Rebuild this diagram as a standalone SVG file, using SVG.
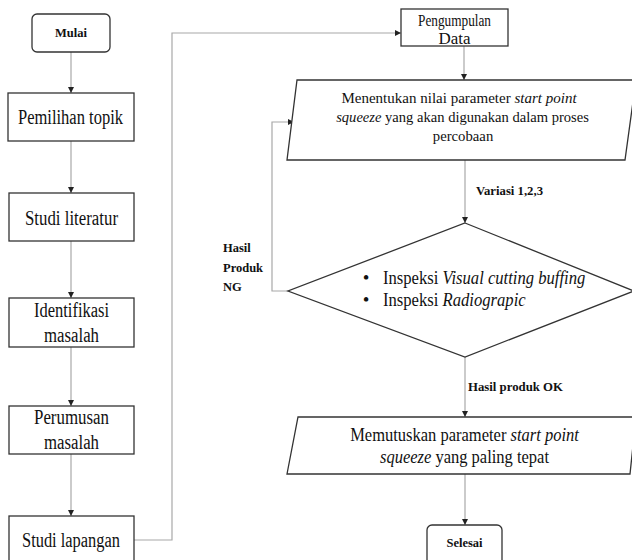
<svg xmlns="http://www.w3.org/2000/svg" width="632" height="560" viewBox="0 0 632 560">
<style>
.box{fill:#fff;stroke:#333;stroke-width:1.3}
.t{font-family:"Liberation Serif","Times New Roman",serif;fill:#111;text-anchor:middle}
.n{font-size:20px}
.pg{font-size:16.5px}
.m{font-size:15.5px}
.d{font-size:19px}
.e{font-size:18.5px}
.b{font-weight:bold;font-size:12.5px}
.s{text-anchor:start}
.i{font-style:italic}
.lb{font-family:"Liberation Serif","Times New Roman",serif;font-weight:bold;font-size:12.5px;fill:#111}
.c{fill:none;stroke:#a8a8a8;stroke-width:1.2}
</style>
<defs>
<marker id="ah" viewBox="0 0 10 10" refX="10" refY="5" markerWidth="6" markerHeight="6" orient="auto" markerUnits="userSpaceOnUse">
<path d="M0,0 L10,5 L0,10 z" fill="#222"/>
</marker>
</defs>
<rect width="632" height="560" fill="#fff"/>
<g id="connectors">
<path class="c" d="M71,52 V93" marker-end="url(#ah)"/>
<path class="c" d="M71,141 V193" marker-end="url(#ah)"/>
<path class="c" d="M71,241 V298" marker-end="url(#ah)"/>
<path class="c" d="M71,347 V406" marker-end="url(#ah)"/>
<path class="c" d="M71,454 V516" marker-end="url(#ah)"/>
<path class="c" d="M134,540 H172 V33 H401" marker-end="url(#ah)"/>
<path class="c" d="M464,46 V80" marker-end="url(#ah)"/>
<path class="c" d="M465,160 V223" marker-end="url(#ah)"/>
<path class="c" d="M288,291 H272 V122 H294" marker-end="url(#ah)"/>
<path class="c" d="M465,357 V417" marker-end="url(#ah)"/>
<path class="c" d="M465,474 V525" marker-end="url(#ah)"/>
<text class="lb" x="476" y="195" textLength="67" lengthAdjust="spacingAndGlyphs">Variasi  1,2,3</text>
<text class="lb" x="468" y="391" textLength="95" lengthAdjust="spacingAndGlyphs">Hasil produk OK</text>
<text class="lb" x="223" y="252">Hasil</text>
<text class="lb" x="223" y="272">Produk</text>
<text class="lb" x="223" y="291">NG</text>
</g>
<g id="mulai">
<rect class="box" x="32" y="14" width="78" height="38" rx="5"/>
<text class="t b" x="71" y="37">Mulai</text>
</g>
<g id="pemilihan">
<rect class="box" x="8" y="93" width="126" height="48"/>
<text class="t n" x="70.5" y="124" textLength="105" lengthAdjust="spacingAndGlyphs">Pemilihan topik</text>
</g>
<g id="literatur">
<rect class="box" x="9" y="193" width="125" height="48"/>
<text class="t n" x="71.5" y="225" textLength="93" lengthAdjust="spacingAndGlyphs">Studi literatur</text>
</g>
<g id="identifikasi">
<rect class="box" x="9" y="298" width="125" height="49"/>
<text class="t n" x="71.5" y="317" textLength="75" lengthAdjust="spacingAndGlyphs">Identifikasi</text>
<text class="t n" x="71.5" y="342" textLength="55" lengthAdjust="spacingAndGlyphs">masalah</text>
</g>
<g id="perumusan">
<rect class="box" x="9" y="406" width="125" height="48"/>
<text class="t n" x="71.5" y="424" textLength="75" lengthAdjust="spacingAndGlyphs">Perumusan</text>
<text class="t n" x="71.5" y="449" textLength="55" lengthAdjust="spacingAndGlyphs">masalah</text>
</g>
<g id="lapangan">
<rect class="box" x="9" y="516" width="125" height="50"/>
<text class="t n" x="71" y="547" textLength="98" lengthAdjust="spacingAndGlyphs">Studi lapangan</text>
</g>
<g id="pengumpulan">
<rect class="box" x="401" y="9" width="107" height="37"/>
<text class="t pg" x="454.5" y="25.5" textLength="73" lengthAdjust="spacingAndGlyphs">Pengumpulan</text>
<text class="t pg" x="454.5" y="44" textLength="32" lengthAdjust="spacingAndGlyphs">Data</text>
</g>
<g id="menentukan">
<polygon class="box" points="297,80 636,80 625,160 287,160"/>
<g transform="translate(459,0) scale(0.97,1)">
<text class="t m" x="0" y="103">Menentukan nilai parameter <tspan class="i">start point</tspan></text>
</g>
<g transform="translate(462.5,0) scale(0.94,1)">
<text class="t m" x="0" y="122"><tspan class="i">squeeze</tspan> yang akan digunakan dalam proses</text>
</g>
<g transform="translate(463,0) scale(0.95,1)">
<text class="t m" x="0" y="141">percobaan</text>
</g>
</g>
<g id="inspeksi">
<polygon class="box" points="465,223 634,291 465,357 288,291"/>
<text class="t d" x="366" y="284">•</text>
<text class="t d" x="366" y="306">•</text>
<g transform="translate(383,0) scale(0.875,1)">
<text class="t d s" x="0" y="284">Inspeksi <tspan class="i">Visual cutting buffing</tspan></text>
<text class="t d s" x="0" y="306">Inspeksi <tspan class="i">Radiograpic</tspan></text>
</g>
</g>
<g id="memutuskan">
<polygon class="box" points="298,417 636,417 630,474 287,474"/>
<g transform="translate(464.5,0) scale(0.893,1)">
<text class="t e" x="0" y="441">Memutuskan parameter <tspan class="i">start point</tspan></text>
<text class="t e" x="0" y="463"><tspan class="i">squeeze</tspan> yang paling tepat</text>
</g>
</g>
<g id="selesai">
<rect class="box" x="427" y="525" width="75" height="45" rx="5"/>
<text class="t b" x="464.5" y="547">Selesai</text>
</g>
</svg>
